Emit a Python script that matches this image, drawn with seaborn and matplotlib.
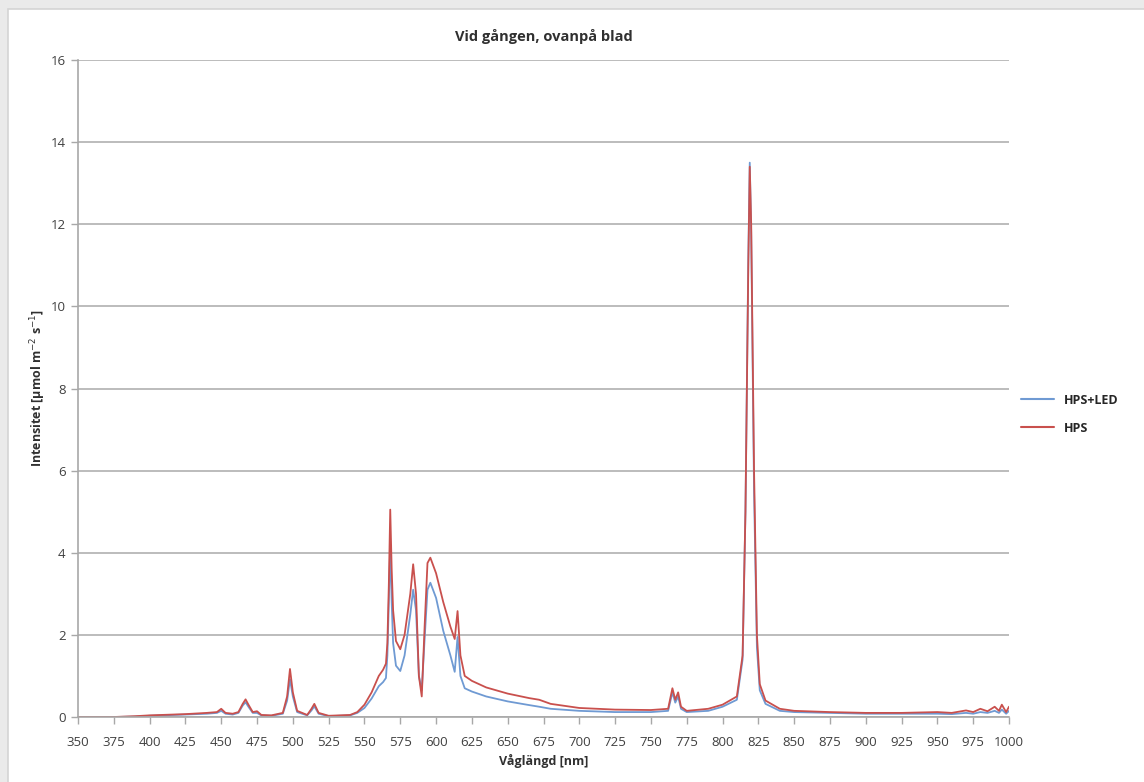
"""Spectrum chart: Vid gången, ovanpå blad."""
import matplotlib
matplotlib.use("Agg")
import matplotlib.pyplot as plt
import pandas as pd
import seaborn as sns
from matplotlib.lines import Line2D

# Wavelength [nm] and intensity
wl_hps = [350, 375, 390, 400, 425, 440, 447, 450, 453, 458, 462, 465, 467, 469, 472, 475, 478,
          485, 493, 496, 498, 500, 503, 510, 513, 515, 518, 525, 540, 545, 550, 555, 560, 563,
          565, 566, 567, 568, 569, 570, 572, 575, 578, 582, 584, 586, 588, 590, 592, 594, 596,
          600, 605, 610, 613, 615, 617, 620, 625, 635, 650, 665, 672, 680, 700, 725, 750, 762,
          765, 767, 769, 771, 775, 790, 800, 810, 814, 816, 818, 819, 820, 822, 824, 826, 830,
          840, 850, 875, 900, 925, 950, 960, 970, 975, 980, 985, 990, 993, 995, 998, 1000]
int_hps = [0.0, 0.0, 0.02, 0.04, 0.07, 0.1, 0.12, 0.2, 0.1, 0.08, 0.12, 0.32, 0.43, 0.3, 0.12,
           0.14, 0.05, 0.04, 0.1, 0.5, 1.17, 0.6, 0.15, 0.05, 0.2, 0.32, 0.1, 0.03, 0.05, 0.12,
           0.3, 0.6, 1.0, 1.15, 1.3, 1.8, 3.2, 5.05, 3.6, 2.6, 1.85, 1.65, 2.0, 3.0, 3.72, 3.0,
           1.0, 0.5, 2.2, 3.75, 3.88, 3.5, 2.8, 2.2, 1.9, 2.58, 1.5, 1.0, 0.88, 0.72, 0.57, 0.46,
           0.42, 0.32, 0.22, 0.18, 0.17, 0.2, 0.7, 0.42, 0.6, 0.25, 0.15, 0.2, 0.3, 0.5, 1.5,
           5.0, 11.0, 13.4, 12.0, 6.0, 2.0, 0.8, 0.4, 0.2, 0.15, 0.12, 0.1, 0.1, 0.12, 0.1,
           0.16, 0.12, 0.2, 0.14, 0.25, 0.15, 0.3, 0.12, 0.25]

wl_led = [350, 375, 390, 400, 425, 440, 447, 450, 453, 458, 462, 465, 467, 469, 472, 475, 478,
          485, 493, 496, 498, 500, 503, 510, 513, 515, 518, 525, 540, 545, 550, 555, 560, 563,
          565, 566, 567, 568, 569, 570, 572, 575, 578, 582, 584, 586, 588, 590, 592, 594, 596,
          600, 605, 610, 613, 615, 617, 620, 625, 635, 650, 665, 672, 680, 700, 725, 750, 762,
          765, 767, 769, 771, 775, 790, 800, 810, 814, 816, 818, 819, 820, 822, 824, 826, 830,
          840, 850, 875, 900, 925, 950, 960, 970, 975, 980, 985, 990, 993, 995, 998, 1000]
int_led = [0.0, 0.0, 0.01, 0.03, 0.06, 0.08, 0.1, 0.15, 0.08, 0.06, 0.1, 0.28, 0.36, 0.25, 0.1,
           0.1, 0.04, 0.03, 0.08, 0.4, 0.92, 0.5, 0.12, 0.04, 0.16, 0.26, 0.08, 0.02, 0.04, 0.1,
           0.22, 0.45, 0.75, 0.85, 0.95, 1.5, 2.8, 4.2, 2.8, 1.8, 1.25, 1.12, 1.5, 2.5, 3.1, 2.6,
           1.0, 0.65, 1.9, 3.1, 3.27, 2.9, 2.1, 1.5, 1.1, 1.95, 1.0, 0.7, 0.62, 0.5, 0.38, 0.29,
           0.25, 0.2, 0.15, 0.12, 0.12, 0.15, 0.6, 0.35, 0.5, 0.2, 0.12, 0.15, 0.25, 0.42, 1.4,
           5.0, 11.2, 13.5, 11.8, 5.5, 1.7, 0.65, 0.32, 0.15, 0.12, 0.1, 0.08, 0.08, 0.08, 0.07,
           0.1, 0.08, 0.12, 0.1, 0.15, 0.1, 0.18, 0.08, 0.15]

series_names = ["HPS+LED", "HPS"]
colors = ["#6F9AD3", "#C9504D"]
x_ticks = list(range(350, 1001, 25))
y_ticks = list(range(0, 17, 2))

df = pd.concat([
    pd.DataFrame({"wl": wl_led, "val": int_led, "serie": series_names[0]}),
    pd.DataFrame({"wl": wl_hps, "val": int_hps, "serie": series_names[1]}),
])

sns.set_theme(style="white")
plt.rcParams["font.family"] = ["Open Sans", "DejaVu Sans"]

fig = plt.figure(figsize=(11.44, 7.82), dpi=100, facecolor="#EAEAEA")
# white chart area with light border like the spreadsheet export
fig.patches.append(plt.Rectangle((8 / 1144, -0.01), 1.0, 1 - 9 / 782 + 0.01,
                                 transform=fig.transFigure, facecolor="white",
                                 edgecolor="#D4D4D4", lw=1.2, zorder=-1))
ax = fig.add_axes([78 / 1144, 1 - 717 / 782, (1009 - 78) / 1144, (717 - 60) / 782])
ax.set_facecolor("white")

sns.lineplot(data=df, x="wl", y="val", hue="serie", palette=colors,
             hue_order=series_names, sort=False, estimator=None, lw=1.3, ax=ax, legend=False)

ax.set_xlim(350, 1000)
ax.set_ylim(0, 16)
ax.set_xticks(x_ticks)
ax.set_yticks(y_ticks)
ax.set_xticklabels([str(t) for t in x_ticks], fontsize=9.5, color="#404040")
ax.set_yticklabels([str(t) for t in y_ticks], fontsize=9.5, color="#404040")
ax.yaxis.grid(True, color="#B0B0B0", lw=1.2)
ax.set_axisbelow(True)
for side in ["top", "right"]:
    ax.spines[side].set_visible(False)
for side in ["left", "bottom"]:
    ax.spines[side].set_color("#A8A8A8")
    ax.spines[side].set_linewidth(1.2)
ax.tick_params(axis="both", direction="out", length=5, width=1, color="#A8A8A8", pad=4,
               bottom=True, left=True)
ax.tick_params(axis="x", pad=8.5)

ax.set_title("Vid gången, ovanpå blad", fontsize=10.5, fontweight="bold", color="#303030",
             pad=14)
ax.set_xlabel("Våglängd [nm]", fontsize=9, fontweight="bold", color="#303030", labelpad=4)
ax.set_ylabel("Intensitet [µmol m$^{-2}$ s$^{-1}$]", fontsize=9, fontweight="bold",
              color="#303030", labelpad=2)

handles = [Line2D([], [], color=c, lw=1.5) for c in colors]
fig.legend(handles, series_names, loc="center left", bbox_to_anchor=(1010 / 1144, 1 - 414 / 782),
           frameon=False, fontsize=9, handlelength=2.6, labelspacing=1.2,
           prop={"weight": "bold", "size": 9})

fig.savefig("out.png", dpi=100, facecolor=fig.get_facecolor())
